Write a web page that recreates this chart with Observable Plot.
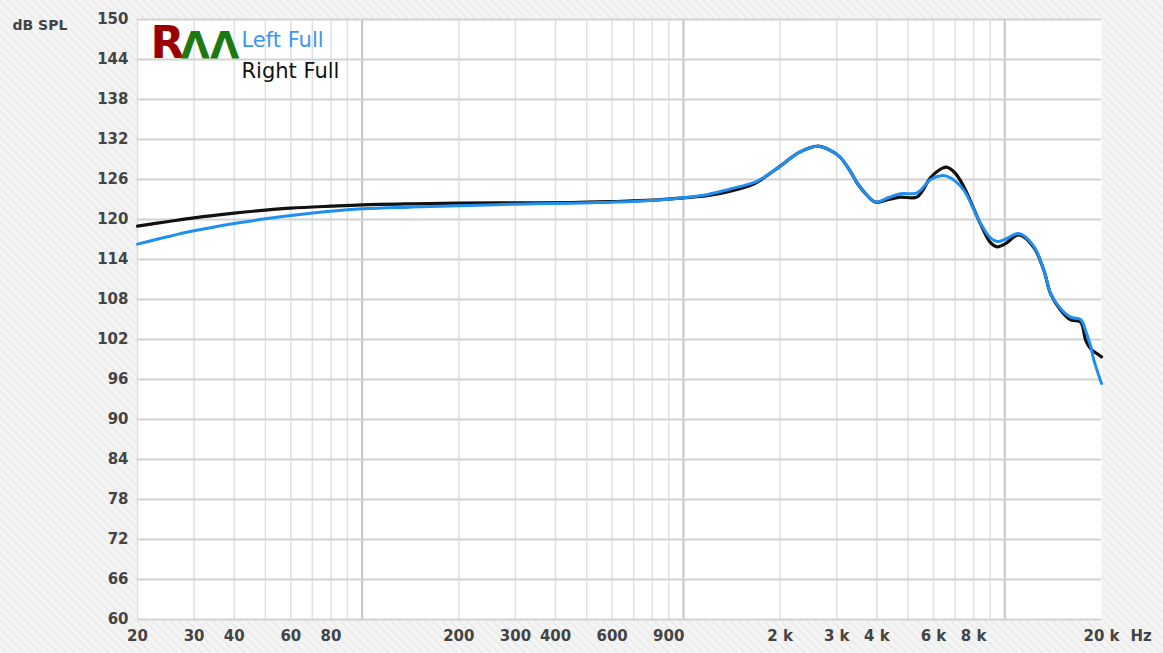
<!DOCTYPE html>
<html>
<head>
<meta charset="utf-8">
<script src="https://cdn.jsdelivr.net/npm/d3@7"></script>
<script src="https://cdn.jsdelivr.net/npm/@observablehq/plot@0.6"></script>
<style>
  html, body { margin: 0; padding: 0; }
  body {
    width: 1163px; height: 653px; overflow: hidden;
    background: repeating-linear-gradient(45deg, #f4f4f4 0px, #f4f4f4 4px, #ececec 4px, #ececec 6px);
  }
  svg { display: block; }
</style>
</head>
<body>
<div id="chart"></div>
<script>
// Frequencies (Hz)
const freq = [20,25,30,40,50,60,80,100,140,200,300,450,600,800,1000,1200,1400,1650,1750,2000,2300,2630,2930,3080,3300,3480,3670,3960,4350,4740,5340,5880,6400,6590,7000,7470,8410,9000,9480,10000,11070,12300,13240,13890,14930,16030,17220,17850,18500,18940,20000];
// Left Full (blue), dB SPL
const leftFull = [116.3,117.45,118.3,119.4,120.1,120.6,121.25,121.6,121.85,122.05,122.3,122.45,122.6,122.85,123.25,123.8,124.6,125.5,126.1,128.0,130.1,131.0,130.1,129.3,127.3,125.4,124.0,122.6,123.3,123.85,124.0,126.0,126.6,126.5,125.8,124.35,119.4,117.3,116.7,117.0,117.9,116.0,112.4,108.9,106.6,105.35,105.0,103.3,101.0,98.9,95.4];
// Right Full (black), dB SPL
const rightFull = [119.0,119.7,120.25,120.95,121.4,121.7,122.0,122.2,122.35,122.45,122.5,122.55,122.7,122.9,123.25,123.6,124.25,125.3,126.0,128.0,130.1,131.0,130.1,129.3,127.3,125.4,124.0,122.6,123.0,123.35,123.4,126.3,127.7,127.85,127.0,124.85,119.3,116.6,115.9,116.3,117.7,115.85,112.35,108.85,106.4,104.95,104.6,101.9,100.6,100.2,99.4];

const seriesNames = ["Left Full", "Right Full"];
const yTicks = [60,66,72,78,84,90,96,102,108,114,120,126,132,138,144,150];
const xGrid = [20,30,40,50,60,70,80,90,100,200,300,400,500,600,700,800,900,1000,2000,3000,4000,5000,6000,7000,8000,9000,10000];
const decades = [100,1000,10000];
const xTickValues = [20,30,40,60,80,200,300,400,600,900,2000,3000,4000,6000,8000,20000];
const xTickLabels = ["20","30","40","60","80","200","300","400","600","900","2 k","3 k","4 k","6 k","8 k","20 k"];
const yUnit = "dB SPL";
const xUnit = "Hz";

const xTicks = xTickValues.map((v, i) => ({v, label: xTickLabels[i]}));
const rowsL = freq.map((f, i) => ({f, v: leftFull[i]}));
const rowsR = freq.map((f, i) => ({f, v: rightFull[i]}));

const font = "DejaVu Sans";
const chart = Plot.plot({
  width: 1163,
  height: 653,
  marginLeft: 137,
  marginRight: 62,
  marginTop: 19,
  marginBottom: 34,
  x: {type: "log", domain: [20, 20000], axis: null},
  y: {domain: [60, 150], axis: null},
  style: {background: "transparent", fontFamily: font, overflow: "visible"},
  marks: [
    Plot.frame({fill: "white", stroke: null}),
    Plot.ruleX(xGrid, {stroke: d => decades.includes(d) ? "#c4c4c4" : "#e0e0e0", strokeWidth: d => decades.includes(d) ? 2 : 1.5}),
    Plot.ruleY(yTicks, {stroke: "#d2d2d2", strokeWidth: 2}),
    Plot.line(rowsR, {x: "f", y: "v", stroke: "#111111", strokeWidth: 3.2, curve: "catmull-rom"}),
    Plot.line(rowsL, {x: "f", y: "v", stroke: "#1f8ff0", strokeWidth: 3, curve: "catmull-rom"}),
    Plot.axisY({ticks: yTicks, tickSize: 0, tickPadding: 9, label: null, fontSize: 15, fontWeight: "bold", fill: "#444"}),
    Plot.text(xTicks, {x: "v", text: "label", frameAnchor: "bottom", dy: 21, fontSize: 15, fontWeight: "bold", fill: "#444"}),
    Plot.text([yUnit], {frameAnchor: "top-left", dx: -125, dy: 1, textAnchor: "start", fontSize: 14, fontWeight: "bold", fill: "#444"}),
    Plot.text([xUnit], {frameAnchor: "bottom-right", dx: 29, dy: 21, textAnchor: "start", fontSize: 15, fontWeight: "bold", fill: "#444"}),
    // logo
    Plot.text(["R"], {frameAnchor: "top-left", dx: 13, dy: 38, lineAnchor: "bottom", textAnchor: "start", fontSize: 44, fontWeight: "bold", fill: "#990000", fontFamily: font}),
    Plot.text(["ΛΛ"], {frameAnchor: "top-left", dx: 43, dy: 38, lineAnchor: "bottom", textAnchor: "start", fontSize: 38, fontWeight: "bold", fill: "#1d7a12", fontFamily: font, letterSpacing: "-9px"}),
    // legend
    Plot.text([seriesNames[0]], {frameAnchor: "top-left", dx: 104, dy: 27, lineAnchor: "bottom", textAnchor: "start", fontSize: 21, fill: "#3b96f2"}),
    Plot.text([seriesNames[1]], {frameAnchor: "top-left", dx: 104, dy: 58, lineAnchor: "bottom", textAnchor: "start", fontSize: 21, fill: "#111"})
  ]
});
document.getElementById("chart").append(chart);
</script>
</body>
</html>
